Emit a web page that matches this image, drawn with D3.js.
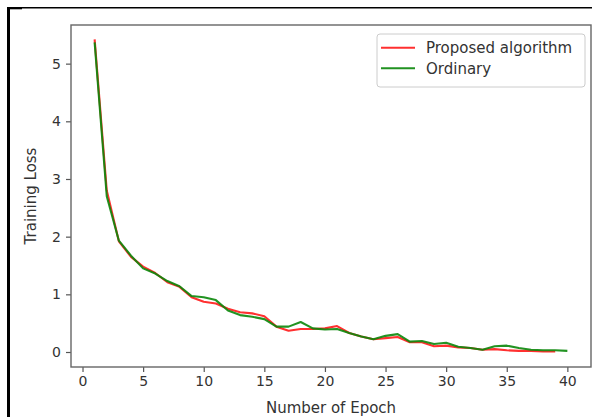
<!DOCTYPE html>
<html>
<head>
<meta charset="utf-8">
<script src="https://cdn.jsdelivr.net/npm/d3@7"></script>
<style>
  body { margin: 0; background: #fff; }
  text { font-family: "DejaVu Sans", sans-serif; fill: #333; }
</style>
</head>
<body>
<svg id="chart" width="592" height="417"></svg>
<script>
// loss per epoch
var proposed = [5.42, 2.80, 1.92, 1.65, 1.48, 1.37, 1.21, 1.13, 0.95, 0.87,
                0.84, 0.75, 0.69, 0.67, 0.62, 0.44, 0.37, 0.40, 0.40, 0.41,
                0.45, 0.33, 0.27, 0.22, 0.24, 0.26, 0.17, 0.17, 0.10, 0.11,
                0.08, 0.07, 0.04, 0.05, 0.03, 0.02, 0.02, 0.01, 0.01];
var ordinary = [5.37, 2.70, 1.93, 1.67, 1.45, 1.36, 1.23, 1.14, 0.97, 0.95,
                0.90, 0.72, 0.64, 0.61, 0.57, 0.44, 0.44, 0.52, 0.41, 0.39,
                0.40, 0.33, 0.27, 0.22, 0.28, 0.31, 0.18, 0.19, 0.14, 0.16,
                0.09, 0.07, 0.04, 0.10, 0.11, 0.07, 0.04, 0.03, 0.03, 0.02];
var xTicks = [0, 5, 10, 15, 20, 25, 30, 35, 40];
var yTicks = [0, 1, 2, 3, 4, 5];
var seriesNames = ["Proposed algorithm", "Ordinary"];
var seriesColors = ["#ff1a1a", "#0a870a"];

var svg = d3.select("#chart");

// outer black frame of the screenshot
svg.append("line").attr("x1", 8.5).attr("x2", 8.5).attr("y1", 7).attr("y2", 417)
    .attr("stroke", "#000").attr("stroke-width", 3);
svg.append("line").attr("x1", 7).attr("x2", 592).attr("y1", 7.7).attr("y2", 7.7)
    .attr("stroke", "#000").attr("stroke-width", 1.5);
svg.append("rect").attr("x", 7).attr("y", 7).attr("width", 15).attr("height", 2.3)
    .attr("fill", "#000");

var plotLeft = 71, plotRight = 591, plotTop = 25, plotBottom = 367;

var xScale = d3.scaleLinear().domain([-0.95, 41.95]).range([plotLeft, plotRight]);
var yScale = d3.scaleLinear().domain([-0.26, 5.67]).range([plotBottom, plotTop]);

var line = d3.line()
    .x(function(d, i) { return xScale(i + 1); })
    .y(function(d) { return yScale(d); });

// lines
[proposed, ordinary].forEach(function(data, i) {
    svg.append("path")
        .datum(data)
        .attr("d", line)
        .attr("fill", "none")
        .attr("stroke", seriesColors[i])
        .attr("stroke-width", 2.1)
        .attr("stroke-linejoin", "round")
        .attr("opacity", 0.9);
});

// axes
var xAxis = svg.append("g")
    .attr("transform", "translate(0," + plotBottom + ")")
    .call(d3.axisBottom(xScale).tickValues(xTicks).tickFormat(d3.format("d"))
        .tickSize(5).tickPadding(4).tickSizeOuter(0));
var yAxis = svg.append("g")
    .attr("transform", "translate(" + plotLeft + ",0)")
    .call(d3.axisLeft(yScale).tickValues(yTicks).tickFormat(d3.format("d"))
        .tickSize(5).tickPadding(5).tickSizeOuter(0));

[xAxis, yAxis].forEach(function(ax) {
    ax.select(".domain").remove();
    ax.selectAll(".tick line").attr("stroke", "#555").attr("stroke-width", 1.2);
    ax.selectAll(".tick text")
        .style("font-family", "DejaVu Sans")
        .style("font-size", "14px")
        .attr("fill", "#333");
});

// frame
svg.append("rect")
    .attr("x", plotLeft).attr("y", plotTop)
    .attr("width", plotRight - plotLeft).attr("height", plotBottom - plotTop)
    .attr("fill", "none").attr("stroke", "#666").attr("stroke-width", 1.4);

// axis titles
svg.append("text")
    .attr("x", (plotLeft + plotRight) / 2)
    .attr("y", 413)
    .attr("text-anchor", "middle")
    .style("font-size", "15px")
    .text("Number of Epoch");

svg.append("text")
    .attr("transform", "translate(36," + ((plotTop + plotBottom) / 2) + ") rotate(-90)")
    .attr("text-anchor", "middle")
    .style("font-size", "15px")
    .text("Training Loss");

// legend
var legend = svg.append("g");
legend.append("rect")
    .attr("x", 377).attr("y", 34).attr("width", 208).attr("height", 53)
    .attr("rx", 3).attr("fill", "#fff").attr("stroke", "#ccc");
seriesNames.forEach(function(name, i) {
    var yy = 47.7 + i * 20.6;
    legend.append("line")
        .attr("x1", 381).attr("x2", 415).attr("y1", yy).attr("y2", yy)
        .attr("stroke", seriesColors[i]).attr("stroke-width", 2.1).attr("opacity", 0.9);
    legend.append("text")
        .attr("x", 426).attr("y", yy + 5.5)
        .style("font-size", "15px")
        .text(name);
});
</script>
</body>
</html>
